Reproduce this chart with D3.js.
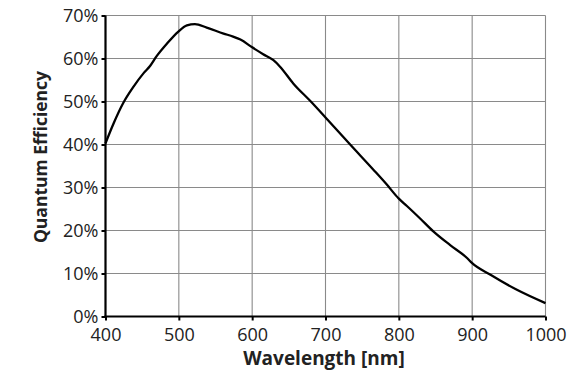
<!DOCTYPE html>
<html>
<head>
<meta charset="utf-8">
<script src="https://cdn.jsdelivr.net/npm/d3@7"></script>
<style>
  body { margin: 0; background: #fff; }
  text { font-family: "Open Sans", sans-serif; fill: #222; }
</style>
</head>
<body>
<svg id="chart"></svg>
<script>
// DATA
const wavelengths = [400, 411, 424, 438, 452, 461, 470, 484, 499, 511, 522, 538, 561, 574, 584, 600, 615, 629, 638, 656, 680, 700, 733, 765, 783, 800, 811, 829, 847, 870, 893, 900, 925, 961, 1000];
const efficiency = [40.3, 44.9, 49.6, 53.4, 56.6, 58.3, 60.6, 63.5, 66.2, 67.7, 68.0, 67.2, 65.8, 65.1, 64.4, 62.6, 61.0, 59.6, 58.1, 54.2, 50.0, 46.3, 40.1, 34.2, 30.8, 27.4, 25.7, 22.8, 19.8, 16.6, 13.6, 12.4, 9.7, 6.2, 3.1];
const xTicks = [400, 500, 600, 700, 800, 900, 1000];
const yTicks = [0, 10, 20, 30, 40, 50, 60, 70];

// LAYOUT
const WIDTH = 584;
const HEIGHT = 381;
const PLOT_LEFT = 105.5;
const PLOT_RIGHT = 545.5;
const PLOT_TOP = 15.5;
const PLOT_BOTTOM = 316.5;

const svg = d3.select("#chart")
  .attr("width", WIDTH)
  .attr("height", HEIGHT);

const x = d3.scaleLinear().domain([400, 1000]).range([PLOT_LEFT, PLOT_RIGHT]);
const y = d3.scaleLinear().domain([0, 70]).range([PLOT_BOTTOM, PLOT_TOP]);

// grid
svg.append("g")
  .selectAll("line")
  .data(xTicks)
  .join("line")
  .attr("x1", d => x(d)).attr("x2", d => x(d))
  .attr("y1", PLOT_TOP).attr("y2", PLOT_BOTTOM)
  .attr("stroke", "#8a8a8a")
  .attr("stroke-width", 1.1);

svg.append("g")
  .selectAll("line")
  .data(yTicks)
  .join("line")
  .attr("x1", PLOT_LEFT).attr("x2", PLOT_RIGHT)
  .attr("y1", d => y(d)).attr("y2", d => y(d))
  .attr("stroke", "#8a8a8a")
  .attr("stroke-width", 1.1);

// axes
const xAxis = svg.append("g")
  .attr("transform", `translate(0,${PLOT_BOTTOM})`)
  .call(d3.axisBottom(x).tickValues(xTicks).tickSize(4).tickPadding(8).tickFormat(d3.format("d")));

const yAxis = svg.append("g")
  .attr("transform", `translate(${PLOT_LEFT},0)`)
  .call(d3.axisLeft(y).tickValues(yTicks).tickSize(4).tickPadding(3).tickFormat(d => d + "%"));

[xAxis, yAxis].forEach(axis => {
  axis.select(".domain").attr("stroke", "#000").attr("stroke-width", 2.2);
  axis.selectAll(".tick line").attr("stroke", "#000").attr("stroke-width", 2);
  axis.selectAll(".tick text")
    .attr("fill", "#333")
    .style("font-family", "'Open Sans', sans-serif")
    .style("font-size", "18px");
});
xAxis.select(".domain").attr("d", `M${PLOT_LEFT - 1},0H${PLOT_RIGHT}`);
yAxis.select(".domain").attr("d", `M0,${PLOT_TOP}V${PLOT_BOTTOM + 1}`);
yAxis.selectAll(".tick text").attr("dy", "0.34em");

// curve
const line = d3.line()
  .x((d, i) => x(wavelengths[i]))
  .y(d => y(d))
  .curve(d3.curveMonotoneX);

svg.append("path")
  .datum(efficiency)
  .attr("d", line)
  .attr("fill", "none")
  .attr("stroke", "#000")
  .attr("stroke-width", 2.3)
  .attr("stroke-linejoin", "round");

// titles
svg.append("text")
  .attr("x", 324)
  .attr("y", 365)
  .attr("text-anchor", "middle")
  .style("font-size", "19px")
  .style("font-weight", "bold")
  .attr("fill", "#111")
  .text("Wavelength [nm]");

svg.append("text")
  .attr("transform", "translate(47,157) rotate(-90)")
  .attr("text-anchor", "middle")
  .style("font-size", "17.5px")
  .style("font-weight", "bold")
  .attr("fill", "#111")
  .text("Quantum Efficiency");
</script>
</body>
</html>
